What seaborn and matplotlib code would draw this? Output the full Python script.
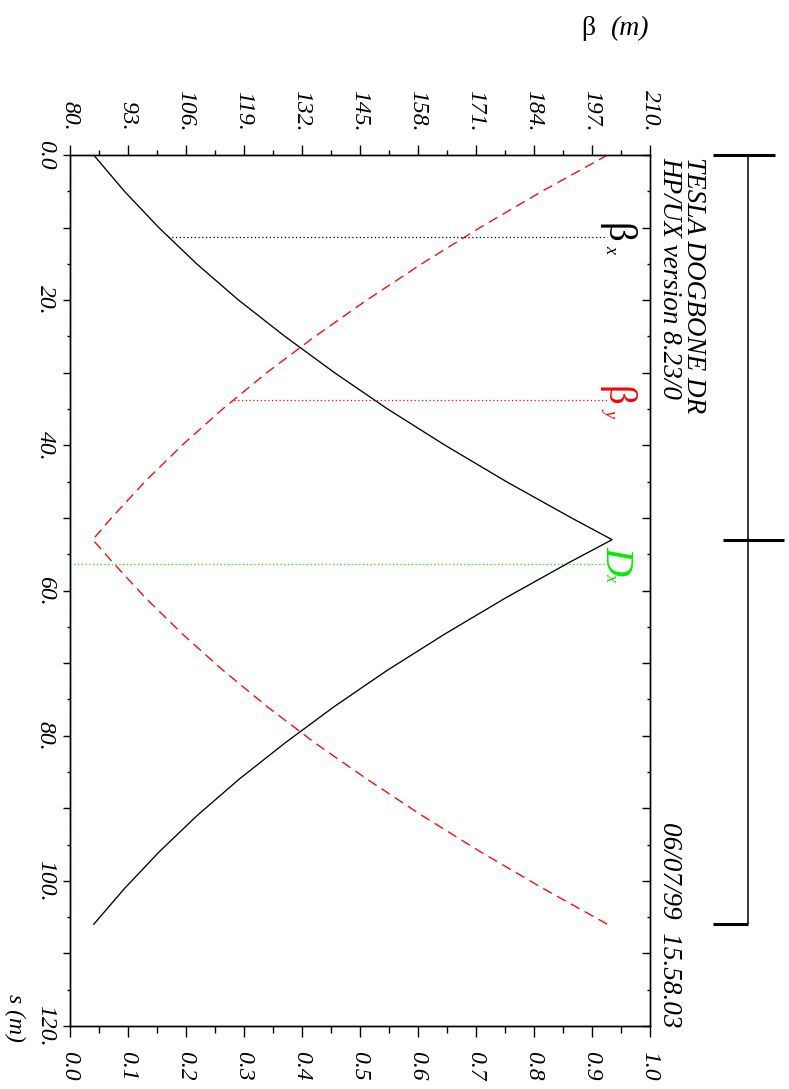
import numpy as np
import pandas as pd
import matplotlib
matplotlib.use("Agg")
import matplotlib.pyplot as plt
import matplotlib.transforms as mtransforms
from matplotlib.ticker import FixedLocator, FuncFormatter
import seaborn as sns

# ---- optics of the cell (s in m, beta in m, dispersion in m) ----
s_pos = [0, 5, 10, 15, 20, 25, 30, 35, 40, 45, 50, 53,
         56, 61, 66, 71, 76, 81, 86, 91, 96, 101, 106]
beta_x = [85.3, 92.2, 99.9, 108.4, 117.8, 128.2, 139.3, 151.2, 164.1, 177.8, 192.4, 201.5,
          192.3, 177.7, 164.0, 151.1, 139.2, 128.2, 117.9, 108.5, 100.0, 92.3, 85.3]
beta_y = [200.5, 185.8, 171.9, 158.8, 146.5, 134.9, 124.1, 114.2, 105.1, 96.8, 89.3, 85.1,
          89.4, 96.9, 105.2, 114.3, 124.2, 134.9, 146.6, 158.9, 172.0, 185.9, 200.5]
disp_x = [0.0] * len(s_pos)

beta_ticks = [80, 93, 106, 119, 132, 145, 158, 171, 184, 197, 210]
disp_ticks = [0.0, 0.1, 0.2, 0.3, 0.4, 0.5, 0.6, 0.7, 0.8, 0.9, 1.0]
s_ticks = [0, 10, 20, 30, 40, 50, 60, 70, 80, 90, 100, 110, 120]

# thin elements of the lattice: position and drawn extent on each side
elem_s = [0.0, 53.0, 106.0]
elem_lo = [-35, -25, -35]
elem_hi = [27, 36, 0]

# curve labels: kind, s of the leader line, colour, data column, main glyph, subscript
labels = [
    ("beta", 11.25, "black", "bx", "β", "x"),
    ("beta", 33.75, "red", "by", "β", "y"),
    ("disp", 56.4, "#00ee00", "dx", "D", "x"),
]

title_lines = ["TESLA DOGBONE DR", "HP/UX version 8.23/0"]
stamp = "06/07/99  15.58.03"

df = pd.DataFrame({"s": s_pos, "bx": beta_x, "by": beta_y, "dx": disp_x})

sns.set_theme(style="ticks")
plt.rcParams.update({
    "font.family": ["Liberation Serif", "DejaVu Serif"],
    "font.style": "italic",
    "axes.linewidth": 1.0,
    "axes.edgecolor": "black",
    "xtick.color": "black",
    "ytick.color": "black",
    "ytick.alignment": "center",
    "figure.facecolor": "white",
    "axes.facecolor": "white",
})

W, H = 789, 1089
fig = plt.figure(figsize=(W / 100, H / 100), dpi=100)


def fx(px):
    return px / W


def fy(py):
    return 1 - py / H


L, R, T, B = 70, 650, 155, 1026
ax = fig.add_axes([fx(L), fy(B), fx(R) - fx(L), fy(T) - fy(B)])   # dispersion, bottom scale
axb = ax.twiny()                                                   # beta, top scale

ax.set_xlim(0.0, 1.0)
ax.set_ylim(120, 0)
axb.set_xlim(80, 210)

FS = 17
TFS = 19.5

# curves
sns.lineplot(data=df, x="bx", y="s", orient="y", estimator=None, ax=axb,
             color="black", lw=0.95, legend=False)
sns.lineplot(data=df, x="by", y="s", orient="y", estimator=None, ax=axb,
             color="red", lw=0.95, linestyle=(0, (7.5, 4.5)), legend=False)
sns.lineplot(data=df, x="dx", y="s", orient="y", estimator=None, ax=ax,
             color="#00ee00", lw=1.0, linestyle=(0, (1, 2)), legend=False,
             clip_on=False, zorder=5)

# leader lines and curve labels
lab_frac = 0.925
for kind, s_lab, col, key, main, sub in labels:
    tgt = axb if kind == "beta" else ax
    x0, x1 = tgt.get_xlim()
    x_val = np.interp(s_lab, df["s"], df[key])
    x_end = x0 + lab_frac * (x1 - x0)
    tgt.plot([x_val, x_end], [s_lab, s_lab], color=col, lw=0.9,
             linestyle=(0, (1, 2)), zorder=4, clip_on=False)
    base = axb.get_yaxis_transform()
    t_main = mtransforms.offset_copy(base, fig=fig, x=0, y=3, units="points")
    t_sub = mtransforms.offset_copy(base, fig=fig, x=0, y=-9, units="points")
    is_beta = main == "β"
    axb.text(lab_frac, s_lab, main, transform=t_main, color=col,
             fontsize=28 if is_beta else 29, style="normal" if is_beta else "italic",
             rotation=-90, rotation_mode="anchor", ha="center", va="baseline")
    axb.text(lab_frac, s_lab, sub, transform=t_sub, color=col, fontsize=13,
             style="italic", rotation=-90, rotation_mode="anchor",
             ha="center", va="baseline")

# ---- ticks ----
# dispersion scale (bottom)
ax.xaxis.set_major_locator(FixedLocator(disp_ticks))
ax.xaxis.set_minor_locator(FixedLocator([v + 0.05 for v in disp_ticks[:-1]]))
ax.xaxis.set_major_formatter(FuncFormatter(lambda v, p: f"{v:.1f}"))
ax.tick_params(axis="x", which="major", direction="out", length=8, width=1.0,
               pad=10, labelsize=FS, labelrotation=-90, bottom=True, top=False)
ax.tick_params(axis="x", which="minor", direction="out", length=5, width=1.0,
               bottom=True, top=False)

# s scale (left, outward)
ax.yaxis.set_major_locator(FixedLocator(s_ticks))
ax.yaxis.set_minor_locator(FixedLocator([v + 5 for v in s_ticks[:-1]]))


def s_fmt(v, p):
    if v == 0:
        return "0.0"
    return f"{int(v)}." if int(v) % 20 == 0 else ""


ax.yaxis.set_major_formatter(FuncFormatter(s_fmt))
ax.tick_params(axis="y", which="major", direction="out", length=5.3, width=1.0,
               pad=5, labelsize=FS, labelrotation=-90, left=True, right=False)
ax.tick_params(axis="y", which="minor", direction="out", length=2.4, width=1.0,
               left=True, right=False)

# beta scale (top)
axb.xaxis.set_major_locator(FixedLocator(beta_ticks))
axb.xaxis.set_minor_locator(FixedLocator([v + 6.5 for v in beta_ticks[:-1]]))
axb.xaxis.set_major_formatter(FuncFormatter(lambda v, p: f"{int(round(v))}."))
axb.tick_params(axis="x", which="major", direction="out", length=7.2, width=1.0,
                pad=10, labelsize=FS, labelrotation=-90, top=True, bottom=False)
axb.tick_params(axis="x", which="minor", direction="out", length=3.6, width=1.0,
                top=True, bottom=False)

# mirrored s ticks on the right edge, pointing inward
axb.yaxis.set_visible(True)
axb.tick_params(axis="y", which="major", direction="in", length=5.8, width=1.0,
                left=False, right=True, labelleft=False, labelright=False)
axb.tick_params(axis="y", which="minor", direction="in", length=2.2, width=1.0,
                left=False, right=True)

for a in (ax, axb):
    a.set_xlabel("")
    a.set_ylabel("")
    for sp in a.spines.values():
        sp.set_visible(True)
        sp.set_linewidth(1.0)
        sp.set_color("black")

# ---- lattice layout strip ----
axl = fig.add_axes([fx(700), fy(B), fx(789) - fx(700), fy(T) - fy(B)])
axl.set_xlim(-48, 41)
axl.set_ylim(120, 0)
axl.axis("off")
axl.vlines(0, elem_s[0], elem_s[-1], color="black", lw=1.1, clip_on=False)
axl.hlines(elem_s, elem_lo, elem_hi, color="black", lw=2.2, clip_on=False)

# ---- titles and axis names ----
tkw = dict(rotation=-90, rotation_mode="anchor", va="baseline",
           style="italic", color="black")
fig.text(fx(687), fy(157), title_lines[0], ha="left", fontsize=TFS, **tkw)
fig.text(fx(663), fy(157), title_lines[1], ha="left", fontsize=TFS, **tkw)
fig.text(fx(663), fy(1027), stamp, ha="right", fontsize=TFS, **tkw)
fig.text(fx(9), fy(1018), "s (m)", ha="center", fontsize=FS, **tkw)

fig.text(fx(649), fy(35), "(m)", ha="right", va="baseline", fontsize=20,
         style="italic", color="black")
fig.text(fx(595), fy(35), "β", ha="right", va="baseline", fontsize=20,
         style="normal", color="black")

fig.savefig("out.png", dpi=100)
